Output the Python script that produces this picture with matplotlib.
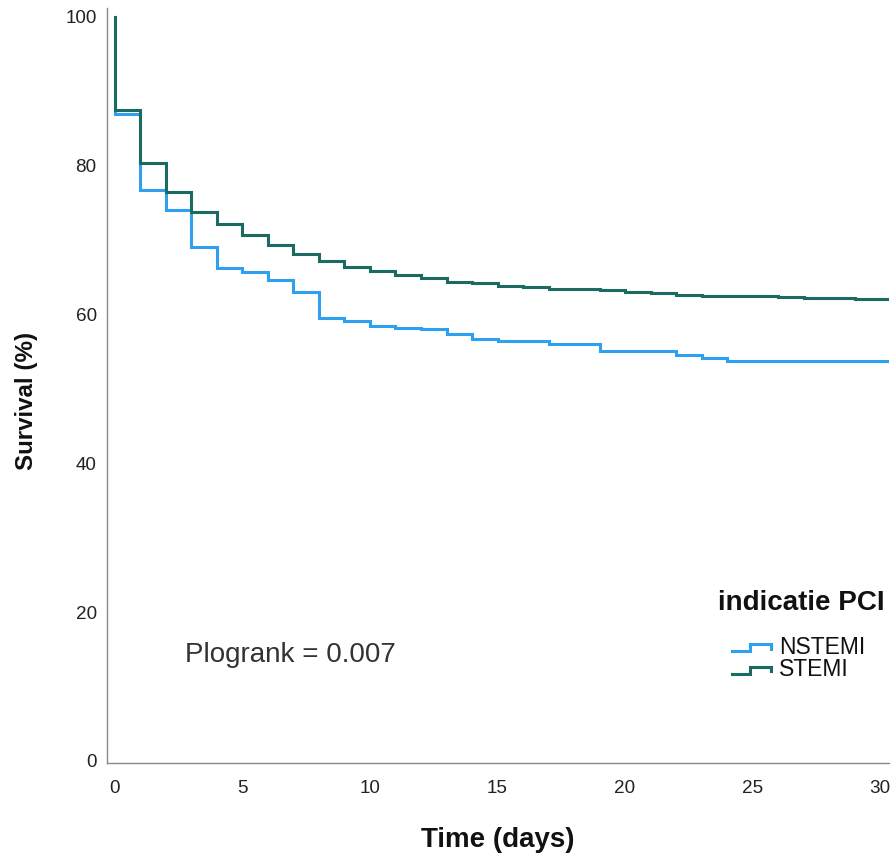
import matplotlib
matplotlib.use("Agg")
import matplotlib.pyplot as plt
from matplotlib.lines import Line2D
from matplotlib.legend_handler import HandlerBase

plt.rcParams['font.family'] = ['Liberation Sans', 'DejaVu Sans']

# ---- data ----
step_days = list(range(0, 30))
end_day = 30.35
start_survival = 100.0

nstemi = [86.9, 76.8, 74.1, 69.1, 66.3, 65.7, 64.65, 63.0, 59.6, 59.1,
          58.5, 58.2, 58.0, 57.35, 56.7, 56.4, 56.4, 56.0, 56.0, 55.1,
          55.1, 55.1, 54.5, 54.1, 53.8, 53.8, 53.8, 53.8, 53.8, 53.8]
stemi = [87.5, 80.4, 76.5, 73.75, 72.2, 70.66, 69.35, 68.1, 67.2, 66.4,
         65.9, 65.3, 64.96, 64.4, 64.2, 63.9, 63.75, 63.5, 63.5, 63.3,
         63.0, 62.85, 62.67, 62.5, 62.5, 62.5, 62.37, 62.23, 62.23, 62.1]

groups = ["NSTEMI", "STEMI"]
colors = {"NSTEMI": "#2f9ff0", "STEMI": "#1b6b63"}
xticks = [0, 5, 10, 15, 20, 25, 30]
yticks = [0, 20, 40, 60, 80, 100]
legend_title = "indicatie PCI"
annotation = "Plogrank = 0.007"

# ---- figure ----
W, H = 895, 861
fig = plt.figure(figsize=(W / 100, H / 100), dpi=100)
ax_l, ax_r, ax_t, ax_b = 107.3, 889, 8, 763
ax = fig.add_axes([ax_l / W, 1 - ax_b / H, (ax_r - ax_l) / W, (ax_b - ax_t) / H])

series = {"NSTEMI": nstemi, "STEMI": stemi}
handles = []
for g in groups:
    vals = series[g]
    xs = [0] + step_days + [end_day]
    ys = [start_survival] + vals + [vals[-1]]
    ln, = ax.step(xs, ys, where='post', color=colors[g], lw=2.2,
                  solid_joinstyle='miter', label=g)
    handles.append(ln)

ax.set_xlim(-0.3, end_day)
ax.set_ylim(-0.27, 101.2)
ax.set_xticks(xticks)
ax.set_yticks(yticks)
ax.tick_params(axis='both', length=0, labelsize=13.6, labelcolor='#222222')
ax.tick_params(axis='x', pad=12.2)
ax.tick_params(axis='y', pad=7.6)
for s in ['top', 'right']:
    ax.spines[s].set_visible(False)
for s in ['left', 'bottom']:
    ax.spines[s].set_color('#8a8a8a')
    ax.spines[s].set_linewidth(1.0)

ax.set_xlabel("Time (days)", fontsize=20, fontweight='bold', color='#111111', va='baseline')
ax.xaxis.set_label_coords((497.5 - ax_l) / (ax_r - ax_l), (ax_b - 847.3) / (ax_b - ax_t))
ax.set_ylabel("Survival (%)", fontsize=17.4, fontweight='bold', color='#111111', va='baseline')
ax.yaxis.set_label_coords((33 - ax_l) / (ax_r - ax_l), (ax_b - 401) / (ax_b - ax_t))

ax.text((185 - ax_l) / (ax_r - ax_l), (ax_b - 661.7) / (ax_b - ax_t), annotation,
        transform=ax.transAxes, fontsize=20, color='#333333', ha='left', va='baseline')

ax.text((718 - ax_l) / (ax_r - ax_l), (ax_b - 610) / (ax_b - ax_t), legend_title,
        transform=ax.transAxes, fontsize=20, fontweight='bold', color='#111111',
        ha='left', va='baseline')


class StepHandler(HandlerBase):
    def create_artists(self, legend, orig_handle, xdescent, ydescent, width,
                       height, fontsize, trans):
        x0 = -xdescent
        y0 = -ydescent
        xs = [x0, x0 + 0.46 * width, x0 + 0.46 * width, x0 + width, x0 + width]
        ys = [y0 + 0.17 * height, y0 + 0.17 * height, y0 + 0.6 * height,
              y0 + 0.6 * height, y0 + 0.3 * height]
        line = Line2D(xs, ys, color=orig_handle.get_color(), lw=2.2,
                      solid_joinstyle='miter', transform=trans)
        return [line]


leg = ax.legend(handles=handles, labels=groups,
                handler_map={Line2D: StepHandler()},
                loc='upper left',
                bbox_to_anchor=((732 - ax_l) / (ax_r - ax_l), (ax_b - 635.7) / (ax_b - ax_t)),
                frameon=False, fontsize=16.5, borderpad=0, borderaxespad=0,
                handlelength=1.72, handletextpad=0.35, labelspacing=-0.02,
                handleheight=0.7)
for t in leg.get_texts():
    t.set_color('#111111')

fig.savefig("out.png", dpi=100)
